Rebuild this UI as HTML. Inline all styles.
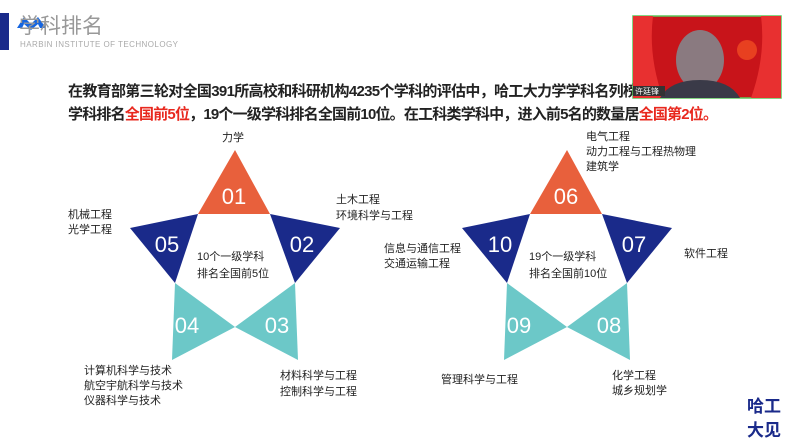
<!DOCTYPE html>
<html><head><meta charset="utf-8"><style>
html,body{margin:0;padding:0;background:#fff;}
svg{display:block;font-family:"Liberation Sans","Noto Sans CJK SC",sans-serif;}
</style></head><body>
<svg width="799" height="443" viewBox="0 0 799 443" xmlns="http://www.w3.org/2000/svg">
<rect width="799" height="443" fill="#fff"/>
<rect x="0" y="13" width="9" height="37" fill="#1a2a8a"/>
<polygon points="17,28 24,17 31,24 38,17 46,28 40,28 38,24 31,30 24,24 22,28" fill="#1565e0"/>
<text x="19" y="33" font-size="21" fill="#999">学科排名</text>
<text x="20" y="47" font-size="8" fill="#aaa" textLength="158">HARBIN INSTITUTE OF TECHNOLOGY</text>
<text x="68" y="96" font-size="15" font-weight="bold" fill="#222" textLength="570">在教育部第三轮对全国391所高校和科研机构4235个学科的评估中，哈工大力学学科名列榜</text>
<text x="68" y="119" font-size="15" font-weight="bold" fill="#222" textLength="650">学科排名<tspan fill="#e8281e">全国前5位</tspan>，19个一级学科排名全国前10位。在工科类学科中，进入前5名的数量居<tspan fill="#e8281e">全国第2位。</tspan></text>
<rect x="633" y="16" width="148" height="82" fill="#c8141a" stroke="#5cc85c" stroke-width="1.5"/>
<path d="M633,16 h20 q-5,40 10,82 h-30z" fill="#e83030"/>
<path d="M781,16 h-20 q5,40 -10,82 h30z" fill="#e83030"/>
<ellipse cx="700" cy="60" rx="24" ry="30" fill="#8a7a80"/>
<path d="M660,98 q10,-18 40,-18 q30,0 40,18z" fill="#3a3a48"/>
<circle cx="747" cy="50" r="10" fill="#e84020"/>
<rect x="633" y="86" width="32" height="10" fill="#333"/>
<text x="635" y="94" font-size="8" fill="#fff">许廷锋</text>
<g id="star">
<polygon points="235,150 198,214 270,214" fill="#e8603c"/>
<polygon points="130,228 198,214 175,283" fill="#1a2a8a"/>
<polygon points="340,228 270,214 295,283" fill="#1a2a8a"/>
<polygon points="175,283 235,327 172,360" fill="#6cc8c8"/>
<polygon points="295,283 235,327 298,360" fill="#6cc8c8"/>
</g>
<use href="#star" x="332"/>
<g font-size="22" fill="#fff" text-anchor="middle">
<text x="234" y="204">01</text><text x="302" y="252">02</text><text x="277" y="333">03</text><text x="187" y="333">04</text><text x="167" y="252">05</text>
<text x="566" y="204">06</text><text x="634" y="252">07</text><text x="609" y="333">08</text><text x="519" y="333">09</text><text x="500" y="252">10</text>
</g>
<g font-size="11" fill="#222">
<text x="197" y="260">10个一级学科</text><text x="197" y="277">排名全国前5位</text>
<text x="529" y="260">19个一级学科</text><text x="529" y="277">排名全国前10位</text>
<text x="222" y="141">力学</text>
<text x="336" y="203">土木工程</text><text x="336" y="219">环境科学与工程</text>
<text x="68" y="218">机械工程</text><text x="68" y="233">光学工程</text>
<text x="280" y="379">材料科学与工程</text><text x="280" y="395">控制科学与工程</text>
<text x="84" y="374">计算机科学与技术</text><text x="84" y="389">航空宇航科学与技术</text><text x="84" y="404">仪器科学与技术</text>
<text x="586" y="140">电气工程</text><text x="586" y="155">动力工程与工程热物理</text><text x="586" y="170">建筑学</text>
<text x="384" y="252">信息与通信工程</text><text x="384" y="267">交通运输工程</text>
<text x="684" y="257">软件工程</text>
<text x="441" y="383">管理科学与工程</text>
<text x="612" y="379">化学工程</text><text x="612" y="394">城乡规划学</text>
</g>
<g font-size="17" font-weight="bold" fill="#1a2a8a">
<text x="747" y="412">哈工</text><text x="747" y="436">大见</text>
</g>
</svg>
</body></html>
